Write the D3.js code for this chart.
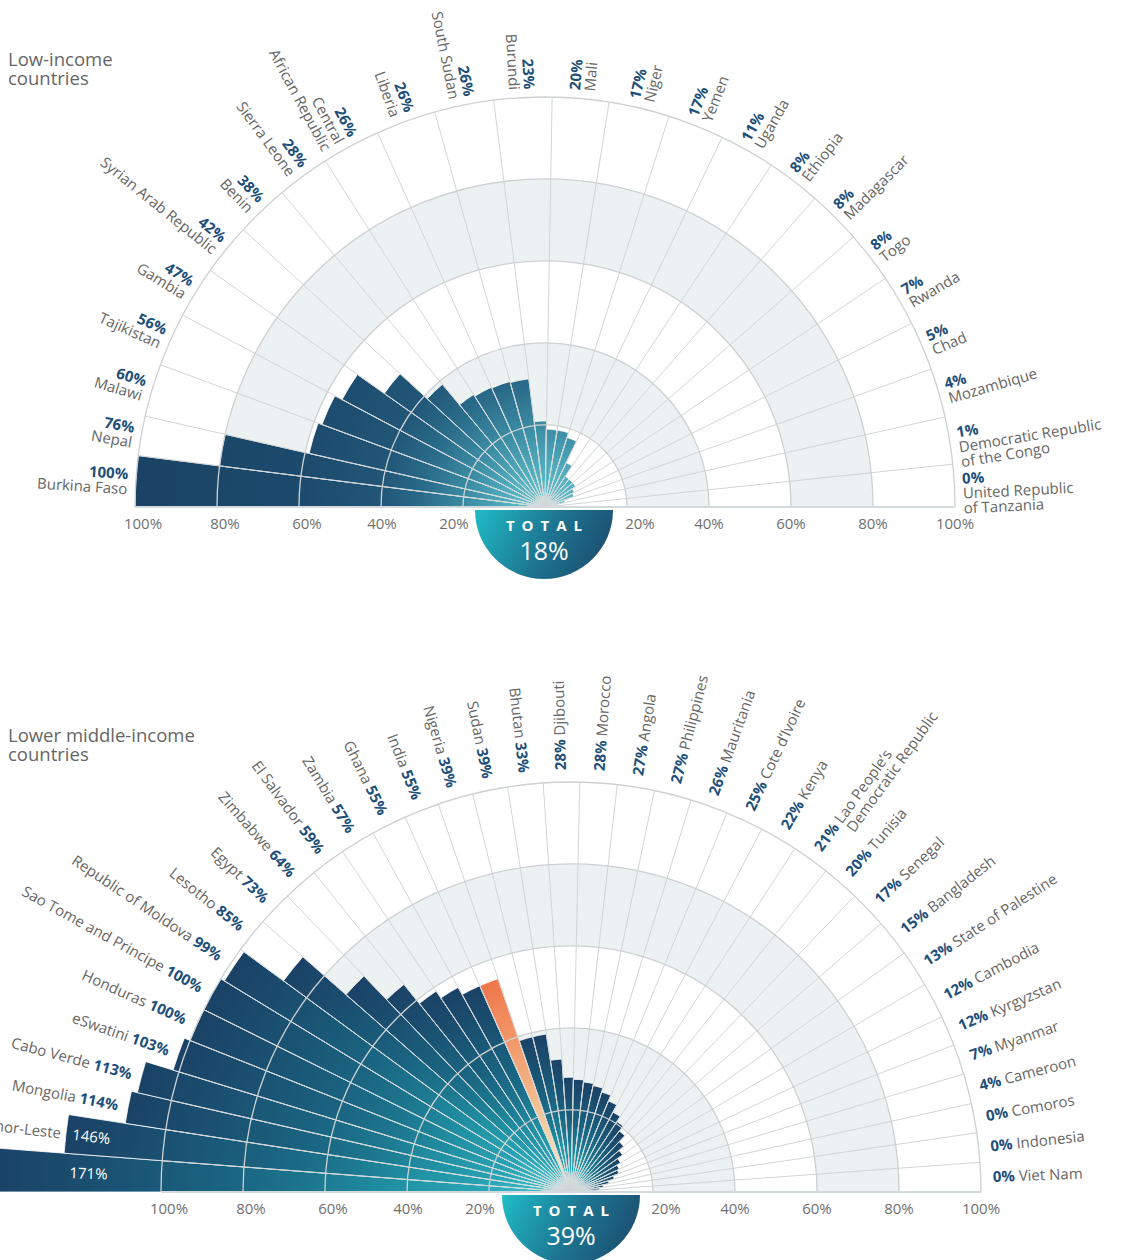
<!DOCTYPE html>
<html>
<head>
<meta charset="utf-8">
<title>Radial bars</title>
<script src="https://cdn.jsdelivr.net/npm/d3@7"></script>
<style>
  body { margin: 0; background: #fff; }
  svg text { font-family: "Open Sans", "Noto Sans", sans-serif; white-space: pre; }
</style>
</head>
<body>
<svg id="chart" width="1123" height="1260"></svg>
<script>
// low-income countries ("|" breaks a name onto a new line)
const lowNames = ["Burkina Faso", "Nepal", "Malawi", "Tajikistan", "Gambia", "Syrian Arab Republic", "Benin",
  "Sierra Leone", "Central|African Republic", "Liberia", "South Sudan", "Burundi", "Mali", "Niger", "Yemen",
  "Uganda", "Ethiopia", "Madagascar", "Togo", "Rwanda", "Chad", "Mozambique",
  "Democratic Republic|of the Congo", "United Republic|of Tanzania"];
const lowLabels = [100, 76, 60, 56, 47, 42, 38, 28, 26, 26, 26, 23, 20, 17, 17, 11, 8, 8, 8, 7, 5, 4, 1, 0];
const lowBars = [100, 80, 59, 58, 56, 48, 39, 32.5, 32, 31.8, 31.5, 21, 19, 19, 17.8, 12, 9, 9, 9, 8, 7.5, 5, 3, 1.5];
const lowTotal = "18%";

// lower middle-income countries (first name is cut off in the original)
const lmNames = ["", "Timor-Leste", "Mongolia", "Cabo Verde", "eSwatini", "Honduras", "Sao Tome and Principe",
  "Republic of Moldova", "Lesotho", "Egypt", "Zimbabwe", "El Salvador", "Zambia", "Ghana", "India", "Nigeria",
  "Sudan", "Bhutan", "Djibouti", "Morocco", "Angola", "Philippines", "Mauritania", "Cote d’Ivoire", "Kenya",
  "Lao People’s|Democratic Republic", "Tunisia", "Senegal", "Bangladesh", "State of Palestine", "Cambodia",
  "Kyrgyzstan", "Myanmar", "Cameroon", "Comoros", "Indonesia", "Viet Nam"];
const lmLabels = [171, 146, 114, 113, 103, 100, 100, 99, 85, 73, 64, 59, 57, 55, 55, 39, 39, 33, 28, 28, 27, 27,
  26, 25, 22, 21, 20, 17, 15, 13, 12, 12, 7, 4, 0, 0, 0];
const lmBars = [142, 124, 110, 108.5, 101.5, 100, 100, 99, 87, 73, 65, 59, 57, 55, 55, 39, 39, 32.5, 28, 27.5, 27,
  26.5, 25.5, 24, 22, 20.5, 19, 17, 15.5, 14, 13, 12.5, 11, 9.5, 8, 7, 6];
const lmTotal = "39%";
const lmHighlight = "India";

const gridTicks = [20, 40, 60, 80, 100];
const shadedBands = [[20, 40], [60, 80]];

// the sectors in the original are not spread evenly: narrower near the baseline
const lowAngleIn  = [0, 7.5, 15, 22.5, 30, 45, 60, 67.5, 75, 82.5, 90, 97.5, 105, 112.5, 120, 135, 150, 165, 172.5, 180];
const lowAngleOut = [0, 7.2, 12.8, 20.3, 27.9, 42.6, 57.6, 65.9, 74.4, 82.8, 91, 99, 107.6, 115.6, 123.5, 138.8, 153.4, 167.3, 174, 180];
const lmAngleIn  = [0, 10, 20, 30, 45, 60, 75, 90, 105, 120, 135, 150, 165, 180];
const lmAngleOut = [0, 9, 17.5, 27.2, 42.5, 57.8, 73.2, 88.6, 104.8, 121.3, 137.8, 154, 167.2, 180];

const blue = "#1d4f7a";
const grey = "#666";

const svg = d3.select("#chart");
const defs = svg.append("defs");
const toRad = a => (a - 90) * Math.PI / 180;

function radial(id, stops, radius) {
  const grad = defs.append("radialGradient").attr("id", id)
    .attr("gradientUnits", "userSpaceOnUse")
    .attr("cx", 0).attr("cy", 0).attr("r", radius);
  grad.selectAll("stop").data(stops).join("stop")
    .attr("offset", d => d[0]).attr("stop-color", d => d[1]);
}

function drawChart(cfg) {
  const g = svg.append("g").attr("transform", `translate(${cfg.cx},${cfg.cy})`);
  const r = d3.scaleLinear().domain([0, 100]).range([0, 410]);
  const n = cfg.names.length;
  const band = d3.scaleBand().domain(d3.range(n)).range([0, 180]);
  const warp = d3.scaleLinear().domain(cfg.angleIn).range(cfg.angleOut);
  const bw = band.bandwidth();
  const start = i => toRad(warp(band(i)));
  const end = i => toRad(warp(band(i) + bw));
  const mid = i => warp(band(i) + bw / 2);

  // title
  cfg.title.forEach((t, k) => svg.append("text").attr("x", 8).attr("y", cfg.titleY + k * 19)
    .attr("font-size", 18.5).attr("fill", grey).text(t));

  const hi = cfg.names.indexOf(cfg.highlight);
  const hiStops = [[0, "#f8ead0"], [0.3, "#f4cfa2"], [0.6, "#f2a677"], [1, "#ef774b"]];
  if (cfg.perBar) {
    cfg.bars.forEach((v, i) => radial(`${cfg.id}-bar-${i}`, i === hi ? hiStops : cfg.stops, r(v)));
  } else {
    radial(cfg.id + "-bar", cfg.stops, r(d3.max(cfg.labels)));
    if (hi >= 0) radial(`${cfg.id}-bar-${hi}`, hiStops, r(cfg.bars[hi]));
  }
  const barFill = i => (cfg.perBar || i === hi) ? `url(#${cfg.id}-bar-${i})` : `url(#${cfg.id}-bar)`;

  // shaded rings
  g.selectAll("path.band").data(shadedBands).join("path")
    .attr("class", "band")
    .attr("d", d => d3.arc()({innerRadius: r(d[0]), outerRadius: r(d[1]),
      startAngle: -Math.PI / 2, endAngle: Math.PI / 2}))
    .attr("fill", "#ecf1f1");

  // bars
  const arc = d3.arc().innerRadius(0);
  g.selectAll("path.bar").data(cfg.bars).join("path")
    .attr("class", "bar")
    .attr("d", (v, i) => arc({outerRadius: r(v), startAngle: start(i), endAngle: end(i)}))
    .attr("fill", (v, i) => barFill(i))
    .attr("stroke", "#fff").attr("stroke-width", 0.8);

  // spokes
  g.selectAll("line.spoke").data(d3.range(1, n)).join("line")
    .attr("class", "spoke")
    .attr("x1", 0).attr("y1", 0)
    .attr("x2", i => r(100) * Math.sin(start(i)))
    .attr("y2", i => -r(100) * Math.cos(start(i)))
    .attr("stroke", "#d2d5d6").attr("stroke-width", 1);

  // rings
  g.selectAll("path.ring").data(gridTicks).join("path")
    .attr("class", "ring")
    .attr("d", t => { const p = d3.path(); p.arc(0, 0, r(t), Math.PI, 2 * Math.PI); return p.toString(); })
    .attr("fill", "none").attr("stroke", "#cdd1d2").attr("stroke-width", 1.3);

  // baseline
  g.append("line").attr("x1", -r(100)).attr("x2", r(100)).attr("y1", 0).attr("y2", 0)
    .attr("stroke", "#d3dadd").attr("stroke-width", 2);

  // tick labels on both sides
  const leftNudge = {20: -9, 40: 1, 60: 8, 80: 8, 100: 8};
  const rightNudge = {20: 13, 40: 0, 60: 0, 80: 0, 100: 0};
  const tickG = g.append("g").attr("font-size", 15).attr("fill", "#707070").attr("text-anchor", "middle");
  tickG.selectAll("text.l").data(gridTicks).join("text").attr("class", "l")
    .attr("x", t => -r(t) + leftNudge[t]).attr("y", 22).text(t => t + "%");
  tickG.selectAll("text.r").data(gridTicks).join("text").attr("class", "r")
    .attr("x", t => r(t) + rightNudge[t]).attr("y", 22).text(t => t + "%");

  // country labels
  const lab = g.append("g").attr("font-size", 15);
  cfg.names.forEach((name, i) => {
    const a = mid(i);
    const left = band(i) + bw / 2 < 89.99;
    const t = toRad(a);
    const lines = name.split("|");
    const val = cfg.labels[i] + "%";
    const barR = r(cfg.bars[i]);
    const place = R => `translate(${R * Math.sin(t)},${-R * Math.cos(t)}) rotate(${left ? a : a - 180})`;

    if (cfg.inline) {
      if (cfg.labels[i] > 120) {
        // value sits inside the bar, name just past its end
        lab.append("text").attr("transform", place(502)).attr("dy", "0.35em")
          .attr("text-anchor", "start").attr("fill", "#fff").text(val);
        lab.append("text").attr("transform", place(barR + 5)).attr("dy", "0.35em")
          .attr("text-anchor", "end").attr("fill", grey).text(lines[0]);
        return;
      }
      const R = Math.max(422, barR + 10);
      const txt = lab.append("text").attr("transform", place(R))
        .attr("text-anchor", left ? "end" : "start").attr("dy", "0.35em");
      if (left) {
        txt.append("tspan").attr("fill", grey).text(lines[0] + " ");
        txt.append("tspan").attr("fill", blue).attr("font-weight", 700).text(val);
      } else {
        const p = txt.append("tspan").attr("fill", blue).attr("font-weight", 700).text(val);
        txt.append("tspan").attr("fill", grey).text(" " + lines[0]);
        const indent = p.node().getComputedTextLength() + 4;
        lines.slice(1).forEach(l =>
          txt.append("tspan").attr("x", indent).attr("dy", "1em").attr("fill", grey).text(l));
      }
    } else {
      const txt = lab.append("text").attr("transform", place(418))
        .attr("text-anchor", left ? "end" : "start");
      txt.append("tspan").attr("x", 0).attr("dy", "-0.1em")
        .attr("font-weight", 700).attr("fill", blue).text(val);
      lines.forEach(l => txt.append("tspan").attr("x", 0).attr("dy", "1em").attr("fill", grey).text(l));
    }
  });

  // total half-disc
  const tg = g.append("g").attr("transform", `translate(${cfg.discDx},3)`);
  const lg = defs.append("linearGradient").attr("id", cfg.id + "-tot")
    .attr("gradientUnits", "userSpaceOnUse")
    .attr("x1", -69).attr("y1", 0).attr("x2", 69).attr("y2", 69);
  lg.selectAll("stop").data([[0, "#20bcc6"], [0.5, "#1d7591"], [1, "#1c4568"]]).join("stop")
    .attr("offset", d => d[0]).attr("stop-color", d => d[1]);
  tg.append("path")
    .attr("d", d3.arc()({innerRadius: 0, outerRadius: 69, startAngle: Math.PI / 2, endAngle: 3 * Math.PI / 2}))
    .attr("fill", `url(#${cfg.id}-tot)`);
  tg.append("text").attr("x", 3.5).attr("y", 21).attr("text-anchor", "middle")
    .attr("fill", "#fff").attr("font-size", 15).attr("font-weight", 700)
    .attr("letter-spacing", 7).text("TOTAL");
  tg.append("text").attr("x", 0).attr("y", 50).attr("text-anchor", "middle")
    .attr("fill", "#fff").attr("font-size", 25).text(cfg.total);
}

drawChart({
  id: "low", cx: 545, cy: 507, discDx: -1,
  title: ["Low-income", "countries"], titleY: 66,
  names: lowNames, labels: lowLabels, bars: lowBars, total: lowTotal,
  angleIn: lowAngleIn, angleOut: lowAngleOut,
  inline: false, perBar: false,
  stops: [[0, "#64c0ca"], [0.08, "#55b2c0"], [0.2, "#3a8aa2"], [0.3, "#2a6b8a"],
          [0.4, "#215677"], [0.6, "#1c4a6c"], [1, "#1a4264"]]
});

drawChart({
  id: "lm", cx: 571, cy: 1192, discDx: 0,
  title: ["Lower middle-income", "countries"], titleY: 742,
  names: lmNames, labels: lmLabels, bars: lmBars, total: lmTotal, highlight: lmHighlight,
  angleIn: lmAngleIn, angleOut: lmAngleOut,
  inline: true, perBar: true,
  stops: [[0, "#4cc6ce"], [0.08, "#36b8c4"], [0.16, "#28a4b4"], [0.3, "#2191a4"], [0.45, "#1c768e"],
          [0.6, "#1a6380"], [0.72, "#1a5877"], [0.86, "#1a4c6e"], [1, "#1a4266"]]
});
</script>
</body>
</html>
